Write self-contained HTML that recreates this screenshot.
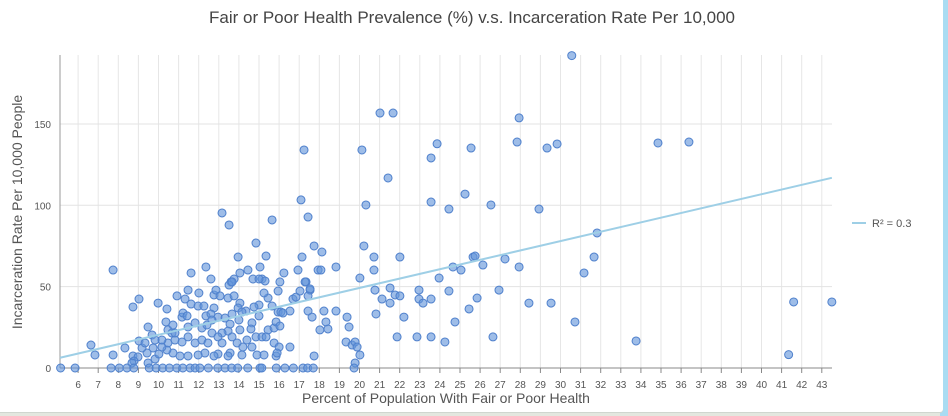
<!DOCTYPE html>
<html><head><meta charset="utf-8">
<style>
html,body{margin:0;padding:0;width:948px;height:416px;overflow:hidden;background:#e3e7df;font-family:"Liberation Sans",sans-serif;}
#rstrip{position:absolute;left:940px;top:0;width:8px;height:416px;background:#a9dcf2;}
#card{position:absolute;left:0;top:0;width:943px;height:412px;background:#fff;border-radius:0 0 3px 0;box-shadow:0 1px 0 #cfd6cf;}
svg{position:absolute;left:0;top:0;}
</style></head>
<body>
<div id="rstrip"></div>
<div id="card"></div>
<svg id="chart" width="948" height="416">
<text x="472" y="23" text-anchor="middle" font-size="17" fill="#444">Fair or Poor Health Prevalence (%) v.s. Incarceration Rate Per 10,000</text>
<text x="0" y="0" transform="translate(22,212) rotate(-90)" text-anchor="middle" font-size="14" fill="#555">Incarceration Rate Per 10,000 People</text>
<text x="446" y="403" text-anchor="middle" font-size="14" fill="#555">Percent of Population With Fair or Poor Health</text>
<g>
<line x1="852" y1="223" x2="866" y2="223" stroke="#9ecfe6" stroke-width="2"/>
<text x="872" y="227" font-size="11" fill="#555">R² = 0.3</text>
</g>
</svg>
<script>
const xTicks=[6,7,8,9,10,11,12,13,14,15,16,17,18,19,20,21,22,23,24,25,26,27,28,29,30,31,32,33,34,35,36,37,38,39,40,41,42,43];
const yTicks=[0,50,100,150];
const trendIntercept=-8.4;
const trendSlope=2.88;
const xs=[30.56,21.02,21.67,27.94,23.86,27.84,29.33,29.83,17.24,20.12,25.55,23.56,21.42,25.25,17.09,23.56,20.32,26.54,28.93,24.45,17.44,17.74,20.22,18.13,17.14,20.72,22.01,25.65,25.75,27.24,17.94,18.08,18.83,20.72,24.65,25.05,26.14,27.94,20.02,23.96,17.34,17.54,17.44,20.77,21.52,22.96,24.45,26.94,21.12,21.52,21.77,22.01,22.96,23.16,23.56,25.85,28.43,29.53,17.44,17.64,18.23,18.83,20.82,22.21,25.45,18.33,18.03,18.43,19.38,19.48,24.75,30.72,21.87,22.86,23.56,24.25,26.64,19.33,19.63,19.78,19.88,20.02,19.78,19.73,17.74,31.17,31.67,31.82,33.76,41.35,41.6,43.5,34.85,36.39,
13.16,13.51,15.65,14.85,7.74,12.36,11.62,12.61,13.96,15.35,14.45,15.05,16.94,16.24,14.05,13.76,15.15,13.61,14.7,15.3,16.04,17.29,9.03,8.73,9.98,10.42,10.92,11.47,11.32,12.01,11.62,11.97,12.26,12.76,12.86,13.06,13.46,13.76,14.05,13.96,14.35,13.51,13.66,15,14.75,15.45,15.25,15.95,15,16.69,16.84,17.04,17.54,15.65,15.95,16.09,16.54,6.64,6.84,7.74,8.33,9.48,8.73,9.03,9.68,10.37,10.47,11.17,11.22,11.42,12.36,12.76,12.61,12.96,13.31,13.66,14.15,14.65,15,15.45,15.75,15.85,16.04,16.19,14,13.56,13.46,14.05,13.16,14.6,14.85,15.15,15.35,15.75,16,16.54,15.85,15.9,14.9,15.25,14.15,13.56,13.46,12.96,12.76,12.31,11.97,11.47,11.07,10.72,10.42,10.17,9.73,9.43,9.18,8.98,8.78,8.68,9.48,9.83,10.02,10.47,10.82,10.67,10.17,11.17,11.47,11.82,12.16,12.46,12.66,12.96,13.16,13.66,13.91,14.2,14.4,14.65,11.82,12.16,12.41,12.66,11.47,10.82,10.72,9.83,9.33,
5.13,5.85,7.64,8.05,8.43,8.77,9.54,9.88,10.21,10.54,10.91,11.21,11.57,11.82,12.06,12.48,12.95,13.31,13.64,13.94,14.44,15.05,15.14,15.86,16.29,16.71,17.19,17.42,17.7];
const ys=[192,156.7,156.7,153.7,137.8,138.9,135.2,137.7,134,134,135.2,129.1,116.8,106.9,103.3,102,100.2,100.2,97.7,97.7,92.8,75,75,71.3,68.2,68.2,68.2,68.2,68.8,67,60.2,60.2,62.1,60.2,62.1,60.2,63.3,62.1,55.3,55.3,52.9,47.9,44.3,47.9,49.2,47.9,47.3,47.9,42.4,39.9,44.9,44.3,42.4,39.9,42.4,43,39.9,39.9,35,31.3,35,35,33.2,31.3,36.3,28.3,23.4,24,31.3,25.2,28.3,28.3,19.1,19.1,19.1,16,19.1,16,14.1,16,12.9,8,3.1,0,7.4,58.4,68.2,83,16.6,8.2,40.6,40.6,138.3,138.9,
95.3,87.9,91,76.8,60.2,62.1,58.4,54.7,68.2,68.8,60.2,62.1,60.2,58.4,58.4,54.7,54.7,52.9,54.7,53.5,52.9,52.9,42.4,37.5,39.9,36.3,44.3,47.9,42.4,46.1,39.3,38.1,38.1,44.9,47.9,44.3,43,44.3,39.9,36.9,35,51,52.9,38.7,37.5,43,46.1,47.3,54.7,42.4,43.6,47.3,48.6,38.1,34.4,34.4,35,14.1,8,8,12.3,25.2,7.4,16.6,20.3,28.3,23.4,31.3,33.8,32,32,36.9,33.2,31.3,30.7,33.2,34.4,27.7,32,23.4,24.6,28.3,25.8,33.8,29.5,27,22.7,23.4,21.5,24,19.1,19.1,19.1,15.4,12.9,12.9,7.4,9.2,8,8,8,9.2,7.4,8.6,7.4,9.2,8,7.4,7.4,9.2,11.1,12.9,12.3,9.2,12.3,6.8,4.3,3.1,3.1,5.5,8.6,15.4,17.2,21.5,17.2,16,19.1,15.4,17.2,15.4,21.5,19.1,15.4,19.1,15.4,12.9,17.2,12.9,27.7,24.6,26.4,29.5,25.2,21.5,26.4,17.2,15.4,
0,0,0,0,0,0,0,0,0,0,0,0,0,0,0,0,0,0,0,0,0,0,0,0,0,0,0,0,0];

const NS="http://www.w3.org/2000/svg";
const svg=document.getElementById('chart');
const X0=60,X1=832,Y0=368,YT=55;
function sx(v){return 58+(v-5)*20.1;}
function sy(v){return 368-v*1.627;}
function mk(tag,attrs){const e=document.createElementNS(NS,tag);for(const k in attrs)e.setAttribute(k,attrs[k]);svg.appendChild(e);return e;}
xTicks.forEach(t=>{
  const g=mk('line',{x1:sx(t),x2:sx(t),y1:YT,y2:Y0,stroke:'#e6e6e6','stroke-width':1});
  
  
  const tk=mk('line',{x1:sx(t),x2:sx(t),y1:Y0,y2:Y0+5,stroke:'#888','stroke-width':1});
  
  
  const lb=mk('text',{x:sx(t),y:388,'text-anchor':'middle','font-size':10,fill:'#555'});
  lb.textContent=t;
  
  
});
yTicks.forEach(t=>{
  const g=mk('line',{x1:X0,x2:X1,y1:sy(t),y2:sy(t),stroke:'#e3e3e3','stroke-width':1});
  
  
  const lb=mk('text',{x:51,y:sy(t)+4,'text-anchor':'end','font-size':10,fill:'#555'});
  lb.textContent=t;
  
  
});
const ya=mk('line',{x1:X0,x2:X0,y1:YT,y2:Y0,stroke:'#999','stroke-width':1});


const xa=mk('line',{x1:X0,x2:X1,y1:Y0,y2:Y0,stroke:'#888','stroke-width':1});


for(let i=0;i<xs.length;i++){
  const c=mk('circle',{cx:sx(xs[i]),cy:sy(ys[i]),r:4,fill:'rgba(98,148,218,0.62)',stroke:'#4f80cc','stroke-width':1});
  
  
}
const xa0=5.1,xa1=43.5;
const tl=mk('line',{x1:sx(xa0),y1:sy(trendIntercept+trendSlope*xa0),x2:sx(xa1),y2:sy(trendIntercept+trendSlope*xa1),stroke:'#9ecfe6','stroke-width':2});


</script>
</body></html>
